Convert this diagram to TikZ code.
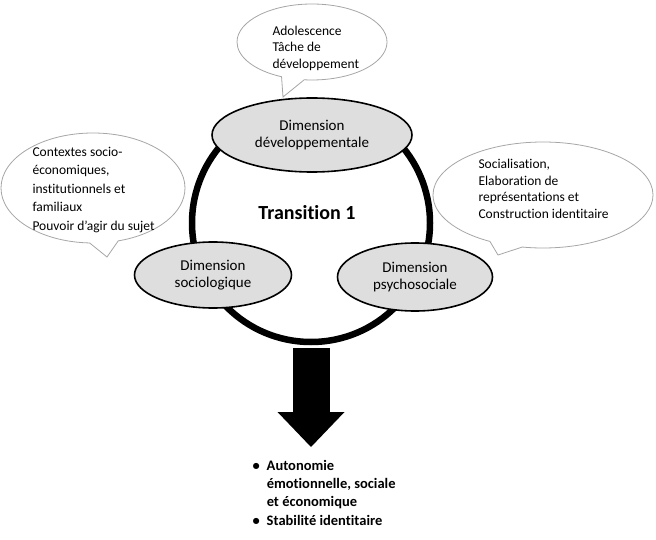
\documentclass[tikz,border=0pt]{standalone}
\usepackage{fontspec}
\setmainfont{Carlito}[Ligatures=NoCommon]
\usetikzlibrary{shapes.geometric,shapes.callouts,arrows.meta}
\begin{document}
\begin{tikzpicture}[
x = 1pt,
y = -1pt,
dimension/.style = {ellipse, draw, line width=1.6pt, fill=black!13, align=center, inner sep=0pt, font=\fontsize{15}{17}\selectfont},
bubble/.style = {ellipse callout, draw=black!35, line width=0.8pt, fill=white, callout pointer arc=18},
bubbletext/.style = {anchor=west, align=left, font=\fontsize{13.5}{16.5}\selectfont}
]
\useasboundingbox (0,0) rectangle (656,540);
  % speech bubbles
  \node[bubble, minimum width=150pt, minimum height=76pt, callout absolute pointer={(283,97)}] (bubdev) at (312,42) {};
  \node[bubble, minimum width=184pt, minimum height=110pt, callout absolute pointer={(107,257)}] (bubsocio) at (93,188) {};
  \node[bubble, minimum width=220pt, minimum height=106pt, callout absolute pointer={(498,255)}] (bubpsycho) at (543,195) {};
  \node[bubbletext] (txtdev) at (269,48) {Adolescence\\Tâche de\\développement};
  \node[bubbletext, font=\fontsize{13.5}{18.5}\selectfont] (txtsocio) at (29,190) {Contextes socio-\\économiques,\\institutionnels et\\familiaux\\Pouvoir d’agir du sujet};
  \node[bubbletext] (txtpsycho) at (475,189) {Socialisation,\\Elaboration de\\représentations et\\Construction identitaire};
  % the transition
  \node[circle, draw, line width=6.5pt, minimum size=238pt, inner sep=0pt] (trans) at (311,223) {};
  \node[font=\fontsize{20}{24}\selectfont\bfseries] (title) at (307,213) {Transition 1};
  \node[dimension, minimum width=200pt, minimum height=74pt] (dev) at (312,135) {Dimension\\développementale};
  \node[dimension, minimum width=157pt, minimum height=66pt] (socio) at (213,275) {Dimension\\sociologique};
  \node[dimension, minimum width=155pt, minimum height=68pt] (psycho) at (415,277) {Dimension\\psychosociale};
  % result
  \node[anchor=north west, font=\fontsize{14.5}{18.3}\selectfont\bfseries] (result) at (249,454) {%
    \begin{tabular}{@{}l@{\hspace{7pt}}l@{}}
    \textbullet & Autonomie\\
     & émotionnelle, sociale\\
     & et économique\\
    \textbullet & Stabilité identitaire
    \end{tabular}};
  \draw[line width=37pt, -{Triangle[width=67pt, length=35pt, line width=0pt]}] ([yshift=-3pt]trans.south) -- ([yshift=7pt]trans.south |- result.north);
\end{tikzpicture}
\end{document}
